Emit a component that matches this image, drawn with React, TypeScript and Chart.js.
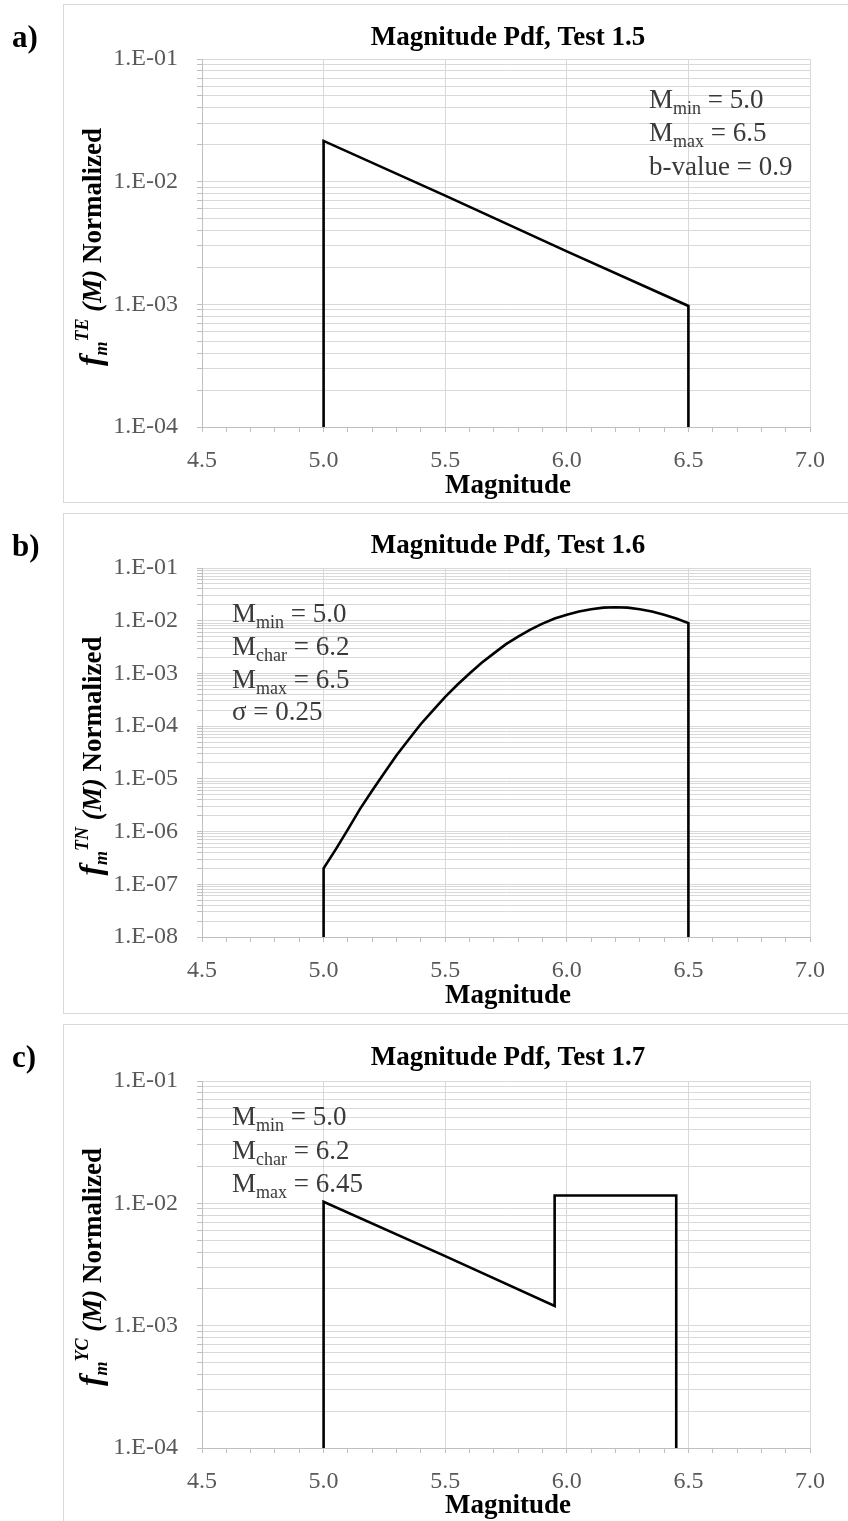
import React, { useEffect, useRef } from 'react';
import { Chart, registerables } from 'chart.js';

Chart.register(...registerables);

const SERIF = '"Liberation Serif", "Times New Roman", serif';

// Test 1.5: truncated exponential magnitude pdf (b = 0.9)
const magTE = [5.0, 5.0, 5.5, 6.0, 6.5, 6.5];
const pdfTE = [1e-4, 0.0215, 0.0077, 0.0027, 0.00097, 1e-4];

// Test 1.6: truncated normal magnitude pdf (Mchar = 6.2, sigma = 0.25)
const magTN = [
  5.0, 5.0, 5.05, 5.1, 5.15, 5.2, 5.25, 5.3, 5.35, 5.4, 5.45, 5.5, 5.55, 5.6, 5.65, 5.7,
  5.75, 5.8, 5.85, 5.9, 5.95, 6.0, 6.05, 6.1, 6.15, 6.2, 6.25, 6.3, 6.35, 6.4, 6.45, 6.5, 6.5,
];
const pdfTN = [
  1e-8, 2.0e-7, 4.6e-7, 1.1e-6, 2.7e-6, 6.0e-6, 1.3e-5, 2.8e-5, 5.6e-5, 1.1e-4, 2.0e-4,
  3.6e-4, 6.1e-4, 1.0e-3, 1.6e-3, 2.4e-3, 3.6e-3, 5.0e-3, 6.8e-3, 8.8e-3, 1.1e-2, 1.3e-2,
  1.5e-2, 1.65e-2, 1.77e-2, 1.8e-2, 1.77e-2, 1.65e-2, 1.5e-2, 1.3e-2, 1.1e-2, 9.0e-3, 1e-8,
];

// Test 1.7: Youngs & Coppersmith characteristic magnitude pdf
const magYC = [5.0, 5.0, 5.5, 5.95, 5.95, 6.45, 6.45];
const pdfYC = [1e-4, 0.0103, 0.0037, 0.00145, 0.0116, 0.0116, 1e-4];

// Axis ticks
const magTicks = [4.5, 5.0, 5.5, 6.0, 6.5, 7.0];
const magMinorStep = 0.1;
// labelled decades (exponents), bottom to top
const decadesTE = [-4, -3, -2, -1];
const decadesTN = [-8, -7, -6, -5, -4, -3, -2, -1];
const decadesYC = [-4, -3, -2, -1];

// Parameter boxes: [text, 'n' | 's'] runs per line
type Run = [string, 'n' | 's'];
const notesTE: Run[][] = [
  [['M', 'n'], ['min', 's'], [' = 5.0', 'n']],
  [['M', 'n'], ['max', 's'], [' = 6.5', 'n']],
  [['b-value = 0.9', 'n']],
];
const notesTN: Run[][] = [
  [['M', 'n'], ['min', 's'], [' = 5.0', 'n']],
  [['M', 'n'], ['char', 's'], [' = 6.2', 'n']],
  [['M', 'n'], ['max', 's'], [' = 6.5', 'n']],
  [['σ = 0.25', 'n']],
];
const notesYC: Run[][] = [
  [['M', 'n'], ['min', 's'], [' = 5.0', 'n']],
  [['M', 'n'], ['char', 's'], [' = 6.2', 'n']],
  [['M', 'n'], ['max', 's'], [' = 6.45', 'n']],
];

type PanelCfg = {
  tag: string;
  title: string;
  sup: string;
  mags: number[];
  pdfs: number[];
  decades: number[];
  notes: Run[][];
  top: number; // canvas top on page
  h: number; // canvas height
  padTop: number;
  padBottom: number;
  notesX: number;
  notesY: number[];
  tagY: number;
  titleY: number;
  xTitleY: number;
  yTitleY: number;
};

const panels: PanelCfg[] = [
  {
    tag: 'a)', title: 'Magnitude Pdf, Test 1.5', sup: 'TE', mags: magTE, pdfs: pdfTE,
    decades: decadesTE, notes: notesTE, top: 0, h: 508, padTop: 59, padBottom: 21,
    notesX: 649, notesY: [108, 141, 175], tagY: 47, titleY: 45, xTitleY: 493, yTitleY: 247,
  },
  {
    tag: 'b)', title: 'Magnitude Pdf, Test 1.6', sup: 'TN', mags: magTN, pdfs: pdfTN,
    decades: decadesTN, notes: notesTN, top: 508, h: 511, padTop: 60, padBottom: 22,
    notesX: 232, notesY: [114, 147, 180, 212], tagY: 48, titleY: 45, xTitleY: 495, yTitleY: 248,
  },
  {
    tag: 'c)', title: 'Magnitude Pdf, Test 1.7', sup: 'YC', mags: magYC, pdfs: pdfYC,
    decades: decadesYC, notes: notesYC, top: 1019, h: 502, padTop: 62, padBottom: 13,
    notesX: 232, notesY: [106, 140, 173], tagY: 48, titleY: 46, xTitleY: 494, yTitleY: 248,
  },
];

const isHalf = (v: number) => Math.abs(v * 2 - Math.round(v * 2)) < 1e-6;
const isDecade = (v: number) => {
  const l = Math.log10(v);
  return Math.abs(l - Math.round(l)) < 1e-6;
};
const fmtDecade = (v: number) => {
  const e = Math.round(Math.log10(v));
  return `1.E${e < 0 ? '-' : '+'}${String(Math.abs(e)).padStart(2, '0')}`;
};

type TextRun = { t: string; font: string; dy?: number };
function runsWidth(ctx: CanvasRenderingContext2D, runs: TextRun[]) {
  let w = 0;
  for (const r of runs) {
    ctx.font = r.font;
    w += ctx.measureText(r.t).width;
  }
  return w;
}
function drawRuns(ctx: CanvasRenderingContext2D, runs: TextRun[], x: number, y: number) {
  let cx = x;
  for (const r of runs) {
    ctx.font = r.font;
    ctx.fillText(r.t, cx, y + (r.dy || 0));
    cx += ctx.measureText(r.t).width;
  }
}

function makeTextPlugin(p: PanelCfg) {
  return {
    id: 'panelText',
    afterDraw(chart: Chart) {
      const ctx = chart.ctx;
      const area = chart.chartArea;
      const cx = (area.left + area.right) / 2 + 2;
      ctx.save();
      ctx.textBaseline = 'alphabetic';

      // panel tag
      ctx.fillStyle = '#000';
      ctx.textAlign = 'left';
      ctx.font = `bold 31px ${SERIF}`;
      ctx.fillText(p.tag, 12, p.tagY);

      // chart title
      ctx.textAlign = 'center';
      ctx.font = `bold 27px ${SERIF}`;
      ctx.fillText(p.title, cx, p.titleY);

      // x-axis title
      ctx.font = `bold 27px ${SERIF}`;
      ctx.fillText('Magnitude', cx, p.xTitleY);

      // y-axis title
      ctx.textAlign = 'left';
      const yRuns: TextRun[] = [
        { t: 'f', font: `italic bold 32px ${SERIF}` },
        { t: 'm', font: `italic bold 18px ${SERIF}`, dy: 6 },
        { t: p.sup, font: `italic bold 18px ${SERIF}`, dy: -13 },
        { t: ' (M)', font: `italic bold 27px ${SERIF}` },
        { t: ' Normalized', font: `bold 27px ${SERIF}` },
      ];
      ctx.save();
      ctx.translate(101, p.yTitleY);
      ctx.rotate(-Math.PI / 2);
      const w = runsWidth(ctx, yRuns);
      drawRuns(ctx, yRuns, -w / 2, 0);
      ctx.restore();

      // parameter box
      ctx.fillStyle = '#3a3a3a';
      p.notes.forEach((line, i) => {
        const runs: TextRun[] = line.map(([t, k]) =>
          k === 's'
            ? { t, font: `18px ${SERIF}`, dy: 6 }
            : { t, font: `27px ${SERIF}` }
        );
        drawRuns(ctx, runs, p.notesX, p.notesY[i]);
      });
      ctx.restore();
    },
  };
}

function Panel({ p }: { p: PanelCfg }) {
  const ref = useRef<HTMLCanvasElement>(null);
  useEffect(() => {
    const canvas = ref.current;
    if (!canvas) return;
    const xMin = magTicks[0];
    const xMax = magTicks[magTicks.length - 1];
    const nMinor = Math.round((xMax - xMin) / magMinorStep);
    const xTickValues: number[] = [];
    for (let i = 0; i <= nMinor; i++) xTickValues.push(Math.round((xMin + i * magMinorStep) * 10) / 10);

    const eMin = p.decades[0];
    const eMax = p.decades[p.decades.length - 1];
    const yTickValues: number[] = [];
    for (const e of p.decades.slice(0, -1)) {
      for (let k = 1; k <= 9; k++) yTickValues.push(k * Math.pow(10, e));
    }
    yTickValues.push(Math.pow(10, eMax));

    const chart = new Chart(canvas, {
      type: 'scatter',
      data: {
        datasets: [
          {
            data: p.mags.map((x, i) => ({ x, y: p.pdfs[i] })),
            showLine: true,
            borderColor: '#000',
            borderWidth: 2.6,
            pointRadius: 0,
            pointHoverRadius: 0,
            tension: 0,
            fill: false,
          },
        ],
      },
      options: {
        responsive: false,
        animation: false,
        devicePixelRatio: 1,
        events: [],
        layout: { padding: { left: 0, right: 38, top: p.padTop, bottom: p.padBottom } },
        plugins: {
          legend: { display: false },
          tooltip: { enabled: false },
          title: { display: false },
        },
        scales: {
          x: {
            type: 'linear',
            min: xMin,
            max: xMax,
            afterBuildTicks: (s: any) => {
              s.ticks = xTickValues.map((v) => ({ value: v }));
            },
            afterFit: (s: any) => {
              s.height = 60;
            },
            ticks: {
              autoSkip: false,
              maxRotation: 0,
              minRotation: 0,
              padding: 14,
              color: '#595959',
              font: { family: SERIF, size: 24 },
              callback: (v: any) => (isHalf(Number(v)) ? Number(v).toFixed(1) : ''),
            },
            grid: {
              color: (c: any) => (c.tick && isHalf(c.tick.value) ? '#d9d9d9' : 'rgba(0,0,0,0)'),
              tickColor: '#bfbfbf',
              tickLength: 5,
              lineWidth: 1,
            },
            border: { color: '#bfbfbf', width: 1 },
          },
          y: {
            type: 'logarithmic',
            min: Math.pow(10, eMin),
            max: Math.pow(10, eMax),
            afterBuildTicks: (s: any) => {
              s.ticks = yTickValues.map((v) => ({ value: v, major: isDecade(v) }));
            },
            afterFit: (s: any) => {
              s.width = 202;
            },
            ticks: {
              autoSkip: false,
              padding: 19,
              color: '#595959',
              font: { family: SERIF, size: 24 },
              callback: (v: any) => (isDecade(Number(v)) ? fmtDecade(Number(v)) : ''),
            },
            grid: {
              color: '#d9d9d9',
              tickColor: '#bfbfbf',
              tickLength: 5,
              lineWidth: 1,
            },
            border: { color: '#bfbfbf', width: 1 },
          },
        },
      },
      plugins: [makeTextPlugin(p)],
    } as any);
    return () => chart.destroy();
  }, [p]);
  return (
    <canvas
      ref={ref}
      width={848}
      height={p.h}
      style={{ position: 'absolute', left: 0, top: p.top, width: 848, height: p.h }}
    />
  );
}

const frames = [
  { top: 4, height: 499 },
  { top: 513, height: 501 },
  { top: 1024, height: 600 },
];

export default function App() {
  return (
    <div
      style={{
        position: 'absolute',
        left: 0,
        top: 0,
        width: 848,
        height: 1521,
        overflow: 'hidden',
        background: '#fff',
      }}
    >
      {frames.map((f, i) => (
        <div
          key={i}
          style={{
            position: 'absolute',
            left: 63,
            top: f.top,
            width: 820,
            height: f.height,
            border: '1px solid #d9d9d9',
            boxSizing: 'border-box',
          }}
        />
      ))}
      {panels.map((p, i) => (
        <Panel key={i} p={p} />
      ))}
    </div>
  );
}
